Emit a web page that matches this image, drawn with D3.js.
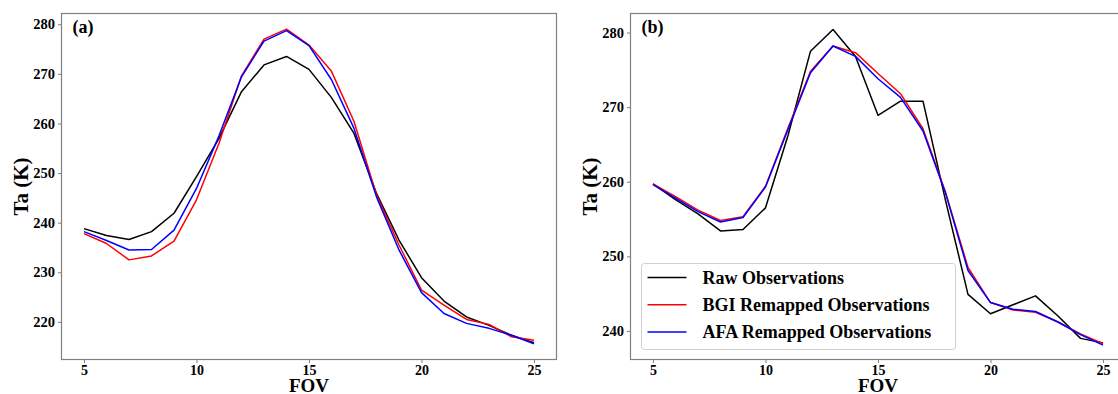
<!DOCTYPE html>
<html>
  <head>
    <script src="https://d3js.org/d3.v7.min.js"></script>
    <style>
      body { margin: 0; background: #fff; }
      text { font-family: "Liberation Serif", "Times New Roman", serif; font-weight: bold; fill: #000; }
      .spine { fill: none; stroke: #808080; stroke-width: 1.2px; }
      .tick line { stroke: #808080; }
      .series { fill: none; stroke-width: 1.5px; stroke-linejoin: round; }
    </style>
  </head>
  <body>
    <script>

// FOV index on the x axis
var fov = [5, 6, 7, 8, 9, 10, 11, 12, 13, 14, 15, 16, 17, 18, 19, 20, 21, 22, 23, 24, 25];

// panel (a)
var rawA = [238.8, 237.4, 236.6, 238.2, 241.9, 249.3, 257.0, 266.4, 271.8, 273.5, 270.9, 265.2, 258.0, 245.9, 236.5, 228.9, 224.2, 221.0, 219.3, 217.3, 215.8];
var bgiA = [237.8, 235.8, 232.5, 233.3, 236.3, 244.6, 256.0, 269.6, 277.0, 279.0, 275.8, 270.5, 260.4, 245.6, 235.5, 226.4, 223.4, 220.5, 219.5, 217.0, 216.3];
var afaA = [238.2, 236.4, 234.5, 234.6, 238.5, 246.9, 257.5, 269.4, 276.6, 278.7, 275.7, 268.8, 259.0, 245.2, 234.5, 225.9, 221.7, 219.7, 218.7, 217.3, 215.6];

// panel (b)
var rawB = [259.7, 257.6, 255.7, 253.4, 253.6, 256.5, 266.2, 277.5, 280.4, 276.8, 268.9, 270.8, 270.8, 257.5, 244.9, 242.3, 243.5, 244.7, 242.0, 239.0, 238.4];
var bgiB = [259.7, 258.0, 256.2, 254.8, 255.3, 259.4, 267.2, 274.8, 278.2, 277.3, 274.5, 271.8, 267.1, 258.6, 248.5, 243.8, 242.8, 242.5, 241.2, 239.6, 238.3];
var afaB = [259.6, 257.8, 256.0, 254.6, 255.2, 259.3, 267.0, 274.6, 278.2, 276.8, 273.8, 271.3, 266.8, 258.5, 248.1, 243.8, 242.9, 242.6, 241.2, 239.5, 238.1];

var xTicks = [5, 10, 15, 20, 25];
var yTicksA = [220, 230, 240, 250, 260, 270, 280];
var yTicksB = [240, 250, 260, 270, 280];

var seriesNames = ["Raw Observations", "BGI Remapped Observations", "AFA Remapped Observations"];
var seriesColors = ["#000000", "#ff0000", "#0000ff"];

var width = 1118,
    height = 394;

var svg = d3.select("body").append("svg")
    .attr("width", width)
    .attr("height", height);

function panel(opts) {
  var x = d3.scaleLinear().domain([4, 26]).range([opts.left, opts.right]);
  var y = d3.scaleLinear().domain(opts.yDomain).range([opts.bottom, opts.top]);
  var g = svg.append("g");

  var line = d3.line()
      .x(function(d) { return x(d[0]); })
      .y(function(d) { return y(d[1]); });

  opts.series.forEach(function(vals, i) {
    g.append("path")
        .attr("class", "series")
        .attr("stroke", seriesColors[i])
        .attr("d", line(fov.map(function(f, j) { return [f, vals[j]]; })));
  });

  g.append("rect")
      .attr("class", "spine")
      .attr("x", opts.left)
      .attr("y", opts.top)
      .attr("width", opts.right - opts.left)
      .attr("height", opts.bottom - opts.top);

  var xAxis = g.append("g")
      .attr("transform", "translate(0," + opts.bottom + ")")
      .call(d3.axisBottom(x).tickValues(xTicks).tickSize(3.5).tickPadding(2));
  xAxis.select(".domain").remove();
  xAxis.selectAll("text").style("font-size", "14px");

  var yAxis = g.append("g")
      .attr("transform", "translate(" + opts.left + ",0)")
      .call(d3.axisLeft(y).tickValues(opts.yTicks).tickSize(3.5).tickPadding(3));
  yAxis.select(".domain").remove();
  yAxis.selectAll("text").style("font-size", "14.5px");

  g.append("text")
      .attr("x", (opts.left + opts.right) / 2)
      .attr("y", 392)
      .attr("text-anchor", "middle")
      .style("font-size", "19px")
      .text("FOV");

  g.append("text")
      .attr("transform", "translate(" + (opts.left - 34) + "," + ((opts.top + opts.bottom) / 2) + ") rotate(-90)")
      .attr("text-anchor", "middle")
      .style("font-size", "21px")
      .text("Ta (K)");

  g.append("text")
      .attr("x", opts.left + 11)
      .attr("y", 33)
      .style("font-size", "18px")
      .text(opts.label);

  return { g: g, x: x, y: y };
}

panel({
  left: 61.5, right: 556.5, top: 13.5, bottom: 359.5,
  yDomain: [212.42, 282.16], yTicks: yTicksA,
  series: [rawA, bgiA, afaA], label: "(a)"
});

var pb = panel({
  left: 630.5, right: 1125.5, top: 13.5, bottom: 359.5,
  yDomain: [236.17, 282.55], yTicks: yTicksB,
  series: [rawB, bgiB, afaB], label: "(b)"
});

// legend, lower left of panel (b)
var legend = pb.g.append("g").attr("transform", "translate(641.5,263.5)");
legend.append("rect")
    .attr("width", 314)
    .attr("height", 86)
    .attr("rx", 3)
    .attr("fill", "#fff")
    .attr("fill-opacity", 0.8)
    .attr("stroke", "#d0d0d0");

seriesNames.forEach(function(name, i) {
  var row = legend.append("g").attr("transform", "translate(0," + (14 + i * 27.3) + ")");
  row.append("line")
      .attr("x1", 6).attr("x2", 45)
      .attr("stroke", seriesColors[i])
      .attr("stroke-width", 1.5);
  row.append("text")
      .attr("x", 61)
      .attr("dy", "0.35em")
      .style("font-size", "18px")
      .text(name);
});

</script>
  </body>
</html>
